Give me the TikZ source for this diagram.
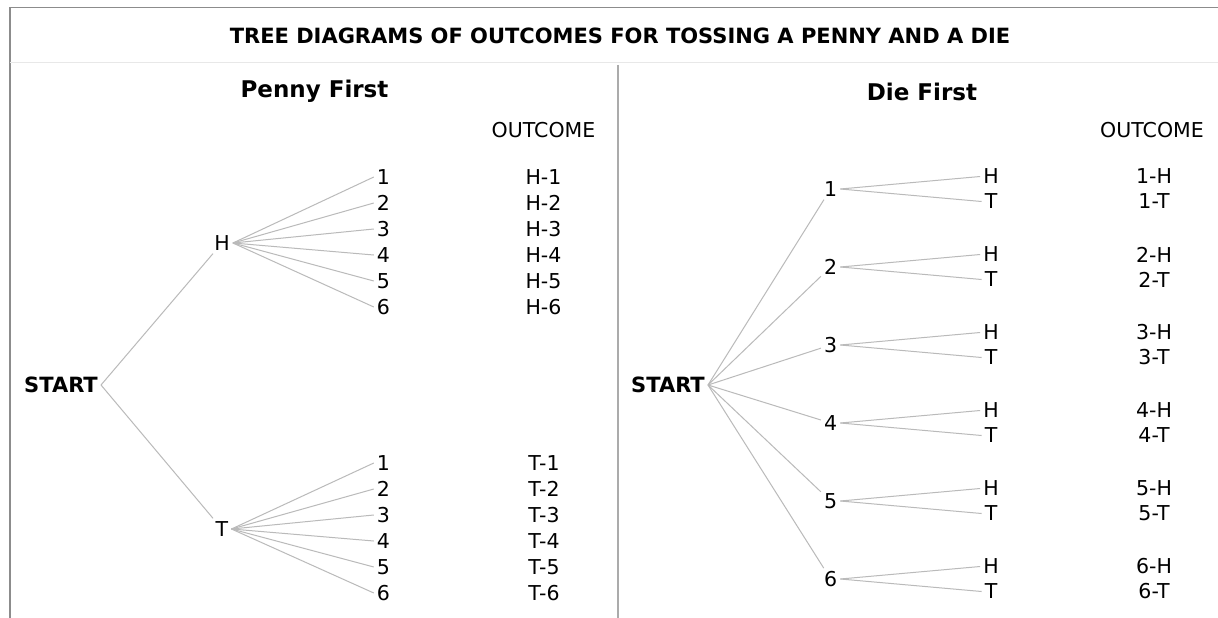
\documentclass[tikz,border=0pt]{standalone}
\usepackage{fontspec}
\setmainfont{DejaVu Sans}

\begin{document}
\begin{tikzpicture}[x=1pt,y=1pt]
\tikzstyle{every node}+=[inner sep=3pt,font=\fontsize{20.5}{24}\selectfont]
\tikzstyle{bold}=[font=\fontsize{21}{25}\selectfont\bfseries]
\tikzstyle{head}=[font=\fontsize{23}{27}\selectfont\bfseries]
\tikzstyle{branch}=[draw=black!27,line width=1pt]
\useasboundingbox (0,0) rectangle (1218,-618);
\fill [white] (0,0) rectangle (1218,-618);
\draw [black!45,line width=1.5pt] (10,-618) -- (10,-7.3) -- (1218,-7.3);
\draw [black!9,line width=1pt] (10,-62.7) -- (1218,-62.7);
\draw [black!33,line width=2pt] (617.7,-65) -- (617.7,-618);
\node (title) at (620,-35.8) [bold] {TREE DIAGRAMS OF OUTCOMES FOR TOSSING A PENNY AND A DIE};
% penny first
\node (pennyhead) at (314.5,-91.5) [head] {Penny First};
\node (outL) at (543.5,-130) {OUTCOME};
\node (startL) at (61,-385) [bold] {START};
\node (H) at (222,-243) {H};
\node (T) at (222,-529) {T};
\node (H1) at (383.5,-177) {1};
\node (H2) at (383.5,-203) {2};
\node (H3) at (383.5,-229) {3};
\node (H4) at (383.5,-255) {4};
\node (H5) at (383.5,-281) {5};
\node (H6) at (383.5,-307) {6};
\node (T1) at (383.5,-463) {1};
\node (T2) at (383.5,-489) {2};
\node (T3) at (383.5,-515) {3};
\node (T4) at (383.5,-541) {4};
\node (T5) at (383.5,-567) {5};
\node (T6) at (383.5,-593) {6};
\node (oH1) at (543.5,-177) {H-1};
\node (oH2) at (543.5,-203) {H-2};
\node (oH3) at (543.5,-229) {H-3};
\node (oH4) at (543.5,-255) {H-4};
\node (oH5) at (543.5,-281) {H-5};
\node (oH6) at (543.5,-307) {H-6};
\node (oT1) at (544,-463) {T-1};
\node (oT2) at (544,-489) {T-2};
\node (oT3) at (544,-515) {T-3};
\node (oT4) at (544,-541) {T-4};
\node (oT5) at (544,-567) {T-5};
\node (oT6) at (544,-593) {T-6};
\draw [branch] (startL.east) -- (H);
\draw [branch] (startL.east) -- (T);
\draw [branch] (H.east) -- (H1.west);
\draw [branch] (H.east) -- (H2.west);
\draw [branch] (H.east) -- (H3.west);
\draw [branch] (H.east) -- (H4.west);
\draw [branch] (H.east) -- (H5.west);
\draw [branch] (H.east) -- (H6.west);
\draw [branch] (T.east) -- (T1.west);
\draw [branch] (T.east) -- (T2.west);
\draw [branch] (T.east) -- (T3.west);
\draw [branch] (T.east) -- (T4.west);
\draw [branch] (T.east) -- (T5.west);
\draw [branch] (T.east) -- (T6.west);
% die first
\node (diehead) at (922,-91.7) [head] {Die First};
\node (outR) at (1152,-130) {OUTCOME};
\node (startR) at (668,-385) [bold] {START};
\node (d1) at (830.6,-189) {1};
\node (d2) at (830.6,-267) {2};
\node (d3) at (830.6,-345) {3};
\node (d4) at (830.6,-423) {4};
\node (d5) at (830.6,-501) {5};
\node (d6) at (830.6,-579) {6};
\node (d1H) at (991,-176.5) {H};
\node (d1T) at (991,-201.5) {T};
\node (d2H) at (991,-254.5) {H};
\node (d2T) at (991,-279.5) {T};
\node (d3H) at (991,-332.5) {H};
\node (d3T) at (991,-357.5) {T};
\node (d4H) at (991,-410.5) {H};
\node (d4T) at (991,-435.5) {T};
\node (d5H) at (991,-488.5) {H};
\node (d5T) at (991,-513.5) {T};
\node (d6H) at (991,-566.5) {H};
\node (d6T) at (991,-591.5) {T};
\node (o1H) at (1154,-176.5) {1-H};
\node (o1T) at (1154,-201.5) {1-T};
\node (o2H) at (1154,-254.5) {2-H};
\node (o2T) at (1154,-279.5) {2-T};
\node (o3H) at (1154,-332.5) {3-H};
\node (o3T) at (1154,-357.5) {3-T};
\node (o4H) at (1154,-410.5) {4-H};
\node (o4T) at (1154,-435.5) {4-T};
\node (o5H) at (1154,-488.5) {5-H};
\node (o5T) at (1154,-513.5) {5-T};
\node (o6H) at (1154,-566.5) {6-H};
\node (o6T) at (1154,-591.5) {6-T};
\draw [branch] (startR.east) -- (d1);
\draw [branch] (startR.east) -- (d2);
\draw [branch] (startR.east) -- (d3);
\draw [branch] (startR.east) -- (d4);
\draw [branch] (startR.east) -- (d5);
\draw [branch] (startR.east) -- (d6);
\draw [branch] (d1.east) -- (d1H.west);
\draw [branch] (d1.east) -- (d1T.west);
\draw [branch] (d2.east) -- (d2H.west);
\draw [branch] (d2.east) -- (d2T.west);
\draw [branch] (d3.east) -- (d3H.west);
\draw [branch] (d3.east) -- (d3T.west);
\draw [branch] (d4.east) -- (d4H.west);
\draw [branch] (d4.east) -- (d4T.west);
\draw [branch] (d5.east) -- (d5H.west);
\draw [branch] (d5.east) -- (d5T.west);
\draw [branch] (d6.east) -- (d6H.west);
\draw [branch] (d6.east) -- (d6T.west);
\end{tikzpicture}
\end{document}
